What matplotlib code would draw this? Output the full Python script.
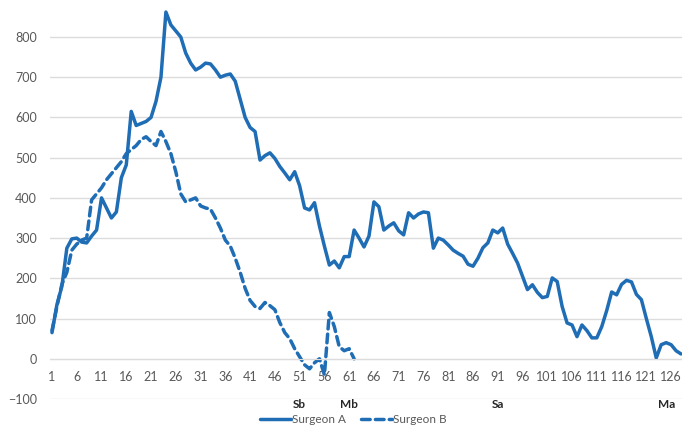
import numpy as np
import matplotlib as mpl
import matplotlib.pyplot as plt

mpl.rcParams['font.family'] = ['Lato', 'DejaVu Sans']

# case number on the x axis (categories)
surgeon_a = [65, 135, 180, 275, 298, 300, 290, 288, 305, 320,
             400, 375, 350, 365, 450, 482, 615, 580, 585, 590,
             600, 640, 700, 862, 830, 815, 800, 760, 735, 718,
             725, 735, 733, 718, 700, 705, 708, 690, 645, 600,
             575, 565, 494, 505, 512, 498, 478, 462, 445, 465,
             430, 375, 370, 388, 330, 280, 233, 243, 226, 254,
             254, 320, 300, 278, 305, 390, 378, 320, 330, 338,
             318, 308, 363, 350, 360, 365, 363, 275, 300, 295,
             283, 270, 262, 255, 235, 230, 250, 276, 288, 320,
             313, 325, 285, 262, 238, 205, 172, 184, 165, 152,
             155, 201, 192, 130, 89, 84, 55, 84, 70, 52,
             52, 80, 120, 166, 159, 185, 195, 191, 160, 147,
             100, 55, 2, 35, 40, 35, 20, 12]

surgeon_b = [70, 130, 185, 215, 270, 285, 295, 300, 395, 410,
             425, 445, 460, 475, 490, 510, 520, 530, 545, 552,
             540, 530, 565, 540, 510, 465, 410, 390, 395, 400,
             380, 375, 372, 350, 325, 295, 280, 250, 215, 175,
             145, 130, 125, 140, 132, 122, 90, 65, 50, 25,
             5, -15, -25, -10, 0, -40, 115, 80, 30, 20,
             25, 0]

# second row of category labels
stage_labels = ['Sb', 'Mb', 'Sa', 'Ma']
stage_pos = [51, 61, 91, 125]

x_a = np.arange(1, len(surgeon_a) + 1)
x_b = np.arange(1, len(surgeon_b) + 1)

blue = '#1f6db5'
grey_txt = '#595959'

fig = plt.figure(figsize=(6.82, 4.32), dpi=100)
ax = fig.add_axes([0.0726, 0.0764, 0.9274, 0.9218])

ax.plot(x_a, surgeon_a, color=blue, lw=2.5, solid_joinstyle='round',
        solid_capstyle='round', label='Surgeon A')
ax.plot(x_b, surgeon_b, color=blue, lw=2.5, linestyle=(0, (2.5, 1.5)),
        dash_capstyle='round', label='Surgeon B')

ax.set_xlim(0.5, 128.2)
ax.set_ylim(-100, 890)
ax.set_yticks(range(-100, 900, 100))
ax.yaxis.grid(True, color='#dcdcdc', lw=1)
ax.set_axisbelow(True)

for s in ['top', 'right', 'left']:
    ax.spines[s].set_visible(False)
# x axis crosses at zero, like the Excel chart
ax.spines['bottom'].set_position(('data', 0))
ax.spines['bottom'].set_color('#dcdcdc')

ax.set_xticks(range(1, 129, 5))
ax.tick_params(axis='x', length=0, pad=9, labelsize=9, labelcolor=grey_txt)
ax.tick_params(axis='y', length=0, pad=9, labelsize=9, labelcolor=grey_txt)

for lab, pos in zip(stage_labels, stage_pos):
    ax.text(pos, -114, lab, ha='center', va='center', fontsize=8.5,
            fontweight='bold', color='#262626', clip_on=False)

fig.legend(loc='center', bbox_to_anchor=(0.518, 0.028), ncol=2, frameon=False,
           fontsize=8.5, handlelength=2.6, handletextpad=0.1, columnspacing=1.3,
           labelcolor=grey_txt)

fig.savefig('out.png', dpi=100)
